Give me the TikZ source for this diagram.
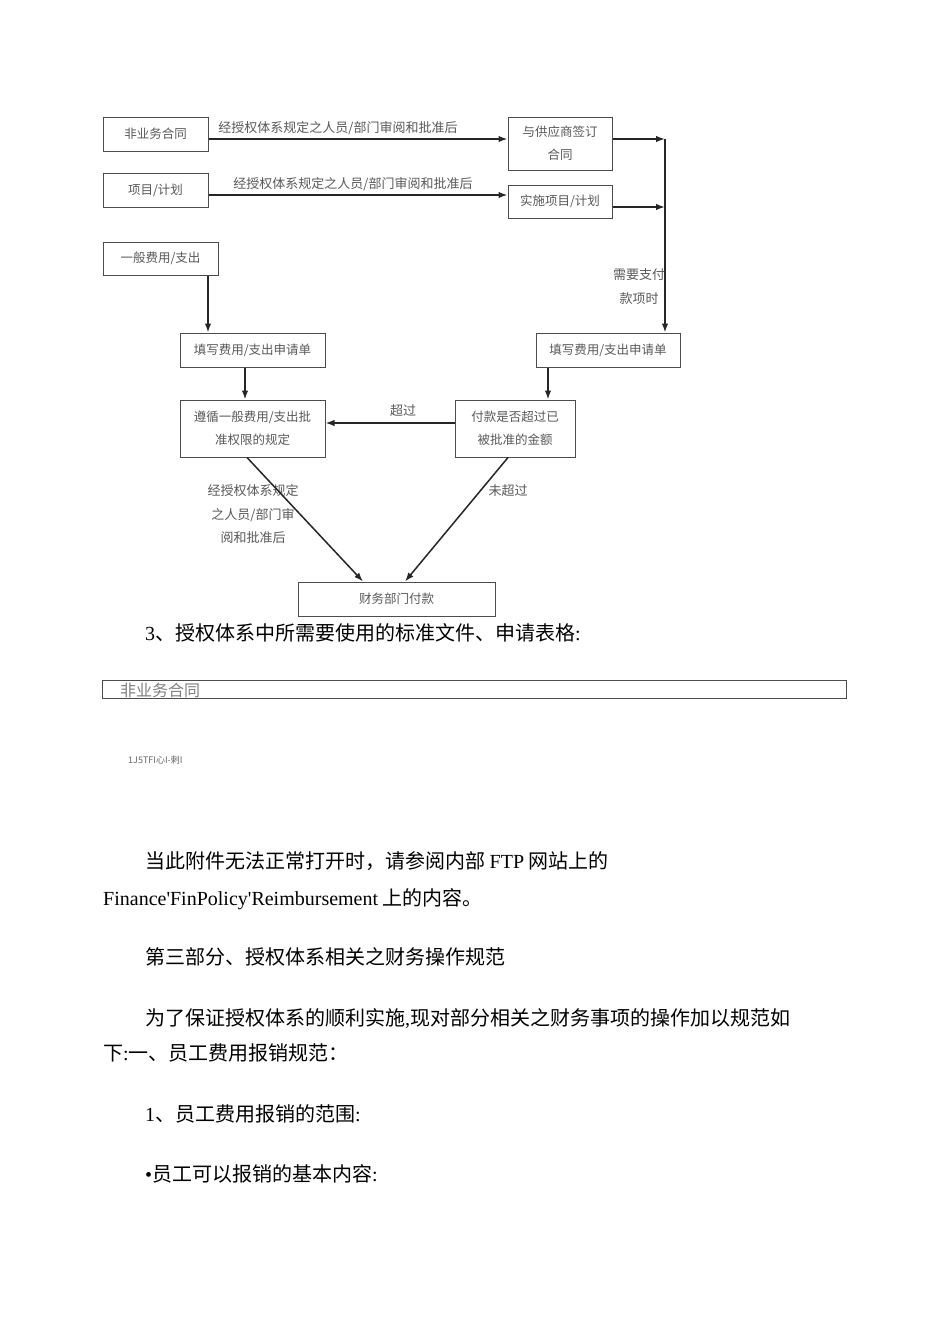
\documentclass[tikz,border=0pt]{standalone}
\usepackage{fontspec}
\usepackage{tikz}
\usetikzlibrary{arrows.meta}
\newfontfamily\cjk{Noto Sans CJK SC}
\newfontfamily\latn{Liberation Serif}
\definecolor{boxgray}{gray}{0.3}
\definecolor{txtgray}{gray}{0.35}

\begin{document}
\begin{tikzpicture}[x=1pt,y=-1pt,>={Latex[length=9pt,width=6.5pt]},
  box/.style={draw=boxgray,line width=1pt,inner sep=0pt,align=center,text=txtgray,font=\cjk\fontsize{12.5}{23}\selectfont},
  lbl/.style={inner sep=0pt,align=center,text=txtgray,font=\cjk\fontsize{13}{23.5}\selectfont},
  arr/.style={black!85,line width=1.5pt,->},
  body/.style={anchor=west,inner sep=0pt,font=\cjk\fontsize{20}{24}\selectfont}]
\useasboundingbox (0,0) rectangle (950,1344);
\fill[white] (0,0) rectangle (950,1344);

% flow chart boxes
\node[box,minimum width=105pt,minimum height=34pt] (fyw) at (155.5,134) {非业务合同};
\node[box,minimum width=104pt,minimum height=53pt] (gys) at (560,143.5) {与供应商签订\\合同};
\node[box,minimum width=105pt,minimum height=34pt] (xm) at (155.5,190) {项目/计划};
\node[box,minimum width=104pt,minimum height=33pt] (ss) at (560,201.5) {实施项目/计划};
\node[box,minimum width=115pt,minimum height=33pt] (ybfy) at (160.5,258.5) {一般费用/支出};
\node[box,minimum width=145pt,minimum height=34pt] (txl) at (252.5,350) {填写费用/支出申请单};
\node[box,minimum width=144pt,minimum height=34pt] (txr) at (608,350) {填写费用/支出申请单};
\node[box,minimum width=145pt,minimum height=57pt] (zx) at (252.5,428.5) {遵循一般费用/支出批\\准权限的规定};
\node[box,minimum width=120pt,minimum height=57pt] (fk) at (515,428.5) {付款是否超过已\\被批准的金额};
\node[box,minimum width=197pt,minimum height=34pt] (cw) at (396.5,599) {财务部门付款};

% connectors
\draw[arr] ([yshift=-5pt]fyw.east) -- ([yshift=-5pt]fyw.east -| gys.west);
\node[lbl] (l1) at (338,128) {经授权体系规定之人员/部门审阅和批准后};
\draw[arr] ([yshift=-5pt]xm.east) -- ([yshift=-5pt]xm.east -| ss.west);
\node[lbl] (l2) at (353,184) {经授权体系规定之人员/部门审阅和批准后};

\coordinate (rt) at (665,139);
\draw[arr] ([yshift=4.5pt]gys.east) -- (rt);
\draw[arr] ([yshift=-5.5pt]ss.east) -- ([yshift=-5.5pt]ss.east -| rt);
\draw[arr] (rt) -- (rt |- txr.north);
\node[lbl] (need) at (639,286.5) {需要支付\\款项时};

\draw[arr] ([xshift=47.5pt]ybfy.south) -- ([xshift=47.5pt]ybfy.south |- txl.north);
\draw[arr] ([xshift=-7.5pt]txl.south) -- ([xshift=-7.5pt]txl.south |- zx.north);
\draw[arr] ([xshift=-60pt]txr.south) -- ([xshift=-60pt]txr.south |- fk.north);

\draw[arr] ([yshift=5.5pt]fk.west) -- ([yshift=5.5pt]fk.west -| zx.east);
\node[lbl] (cg) at (403,411) {超过};

\node[lbl] (l3) at (253,514.5) {经授权体系规定\\之人员/部门审\\阅和批准后};
\node[lbl] (wcg) at (508,491) {未超过};
\draw[arr] ([xshift=-5.5pt]zx.south) -- ([xshift=-33.5pt]cw.north);
\draw[arr] ([xshift=-7pt]fk.south) -- ([xshift=8.5pt]cw.north);

% page text
\node[body] (t1) at (145,633) {{\latn 3}、授权体系中所需要使用的标准文件、申请表格{\latn :}};
\node[draw=black!70,line width=1pt,minimum width=744pt,minimum height=18pt,inner sep=0pt] (tbl) at (474,689) {};
\node[anchor=west,inner sep=0pt,text=black!50,font=\cjk\fontsize{16}{18}\selectfont] (tblt) at (120,690) {非业务合同};
\node[anchor=west,inner sep=0pt,text=black!60,font=\cjk\fontsize{9}{11}\selectfont] (code) at (128,760) {1J5TFI心I-剌I};

\node[body] (t2) at (145,861) {当此附件无法正常打开时，请参阅内部 {\latn FTP} 网站上的};
\node[body] (t3) at (103,899) {{\latn Finance'FinPolicy'Reimbursement} 上的内容。};
\node[body] (t4) at (145,957) {第三部分、授权体系相关之财务操作规范};
\node[body] (t5) at (145,1019) {为了保证授权体系的顺利实施{\latn ,}现对部分相关之财务事项的操作加以规范如};
\node[body] (t6) at (103,1053) {下{\latn :}一、员工费用报销规范：};
\node[body] (t7) at (145,1114) {{\latn 1}、员工费用报销的范围{\latn :}};
\node[body] (t8) at (145,1174) {{\latn •}员工可以报销的基本内容{\latn :}};
\end{tikzpicture}
\end{document}
